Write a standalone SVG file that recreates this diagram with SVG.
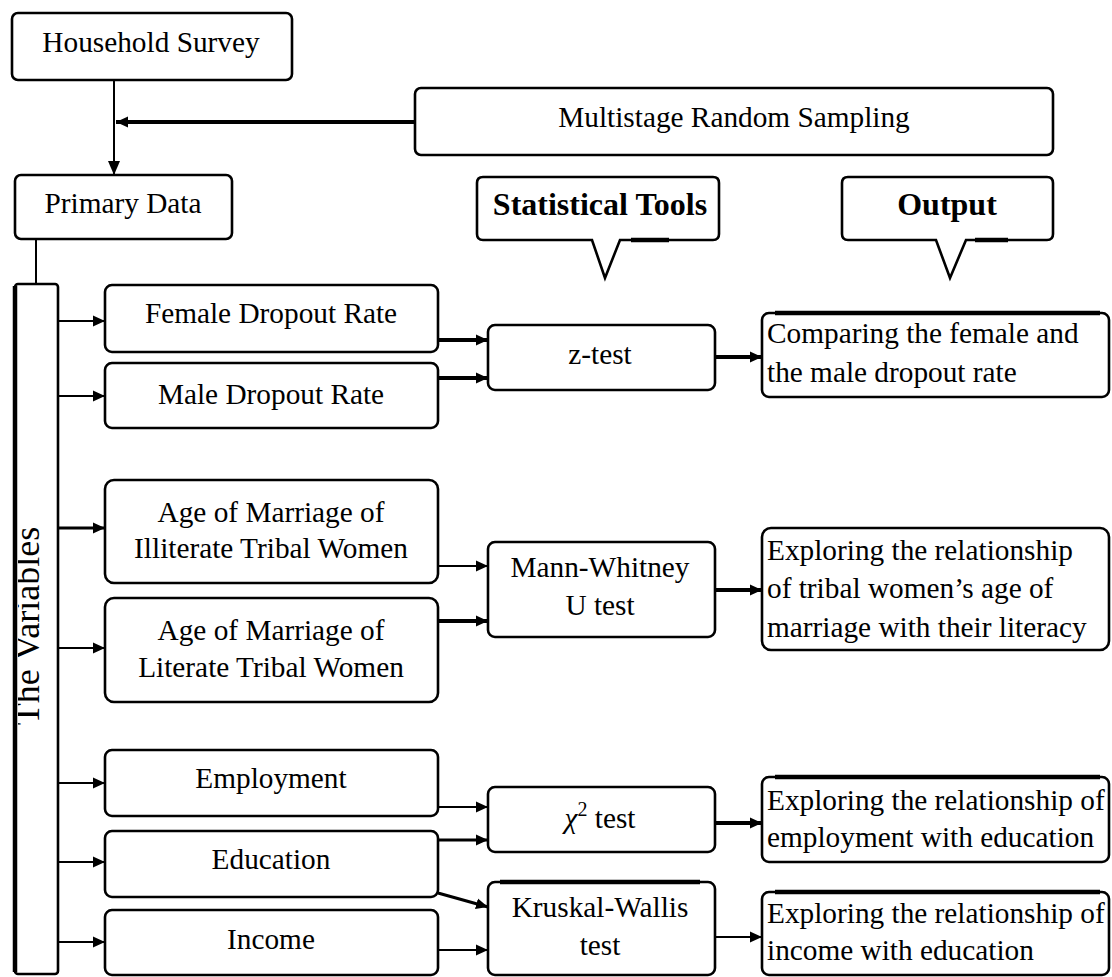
<svg xmlns="http://www.w3.org/2000/svg" width="1112" height="977" viewBox="0 0 1112 977">
<style>
  .box { fill: #fff; stroke: #000; stroke-width: 2.6; }
  .t { font-family: "Liberation Serif", "Times New Roman", serif; font-size: 29.3px; fill: #000; }
  .c { text-anchor: middle; }
  .b { font-weight: bold; font-size: 32px; }
  .thick { stroke: #000; stroke-width: 4; fill: none; }
  .thin { stroke: #000; stroke-width: 2; fill: none; }
  .mid { stroke: #000; stroke-width: 3; fill: none; }
  .edge { stroke: #000; stroke-width: 4.5; fill: none; }
</style>
<defs>
  <marker id="ah" viewBox="0 0 12 12" refX="12" refY="6" markerWidth="12" markerHeight="12" markerUnits="userSpaceOnUse" orient="auto">
    <path d="M0,0.5 L12,6 L0,11.5 z" fill="#000"/>
  </marker>
  <marker id="ahd" viewBox="0 0 12 14" refX="6" refY="14" markerWidth="12" markerHeight="14" markerUnits="userSpaceOnUse" orient="0">
    <path d="M0,0 L12,0 L6,14 z" fill="#000"/>
  </marker>
  <clipPath id="varclip"><rect x="18" y="285" width="40" height="688"/></clipPath>
</defs>
<rect width="1112" height="977" fill="#fff"/>

<g id="connectors">
  <line class="thin" x1="114" y1="80" x2="114" y2="175" marker-end="url(#ahd)"/>
  <line class="thick" x1="415" y1="122" x2="116" y2="122" marker-end="url(#ah)"/>
  <line class="thin" x1="36" y1="239" x2="36" y2="284"/>
  <line class="thin" x1="59" y1="321" x2="105" y2="321" marker-end="url(#ah)"/>
  <line class="thin" x1="59" y1="396" x2="105" y2="396" marker-end="url(#ah)"/>
  <line class="mid" x1="59" y1="528" x2="105" y2="528" marker-end="url(#ah)"/>
  <line class="thin" x1="59" y1="648" x2="105" y2="648" marker-end="url(#ah)"/>
  <line class="thin" x1="59" y1="783" x2="105" y2="783" marker-end="url(#ah)"/>
  <line class="thin" x1="59" y1="862" x2="105" y2="862" marker-end="url(#ah)"/>
  <line class="thin" x1="59" y1="942" x2="105" y2="942" marker-end="url(#ah)"/>
  <line class="thick" x1="438" y1="340" x2="488" y2="340" marker-end="url(#ah)"/>
  <line class="thick" x1="438" y1="378" x2="488" y2="378" marker-end="url(#ah)"/>
  <line class="thick" x1="715" y1="357" x2="762" y2="357" marker-end="url(#ah)"/>
  <line class="thin" x1="438" y1="566" x2="488" y2="566" marker-end="url(#ah)"/>
  <line class="thick" x1="438" y1="621" x2="488" y2="621" marker-end="url(#ah)"/>
  <line class="thick" x1="715" y1="590" x2="762" y2="590" marker-end="url(#ah)"/>
  <line class="thin" x1="438" y1="807" x2="488" y2="807" marker-end="url(#ah)"/>
  <line class="mid" x1="438" y1="840" x2="488" y2="840" marker-end="url(#ah)"/>
  <line class="mid" x1="438" y1="893" x2="488" y2="907" marker-end="url(#ah)"/>
  <line class="thin" x1="438" y1="950" x2="488" y2="950" marker-end="url(#ah)"/>
  <line class="thick" x1="715" y1="823" x2="762" y2="823" marker-end="url(#ah)"/>
  <line class="thin" x1="715" y1="937" x2="762" y2="937" marker-end="url(#ah)"/>
</g>

<g id="household-survey">
  <rect class="box" x="12" y="13" width="280" height="67" rx="6"/>
  <text class="t c" x="151" y="52">Household Survey</text>
</g>
<g id="multistage">
  <rect class="box" x="415" y="88" width="638" height="67" rx="6"/>
  <text class="t c" x="734" y="127">Multistage Random Sampling</text>
</g>
<g id="primary-data">
  <rect class="box" x="15" y="175" width="217" height="64" rx="6"/>
  <text class="t c" x="123" y="213">Primary Data</text>
</g>
<g id="statistical-tools">
  <path class="box" d="M483,177 H713 Q719,177 719,183 V234 Q719,240 713,240 H620 L605,278 L592,240 H483 Q477,240 477,234 V183 Q477,177 483,177 Z"/>
  <line class="edge" x1="631" y1="240" x2="669" y2="240"/>
  <text class="t c b" x="600" y="215">Statistical Tools</text>
</g>
<g id="output-label">
  <path class="box" d="M848,177 H1047 Q1053,177 1053,183 V234 Q1053,240 1047,240 H966 L950,278 L936,240 H848 Q842,240 842,234 V183 Q842,177 848,177 Z"/>
  <line class="edge" x1="975" y1="240" x2="1008" y2="240"/>
  <text class="t c b" x="947" y="215">Output</text>
</g>

<g id="variables">
  <rect class="box" x="15" y="284" width="43" height="690" rx="3"/>
  <line class="edge" x1="15" y1="286" x2="15" y2="972"/>
  <g clip-path="url(#varclip)">
    <text class="t c" transform="translate(39,626) rotate(-90)" x="0" y="0" style="font-size:36px">The Variables</text>
  </g>
</g>

<g id="female-dropout">
  <rect class="box" x="105" y="285" width="333" height="67" rx="7"/>
  <text class="t c" x="271" y="323">Female Dropout Rate</text>
</g>
<g id="male-dropout">
  <rect class="box" x="105" y="363" width="333" height="65" rx="7"/>
  <text class="t c" x="271" y="404">Male Dropout Rate</text>
</g>
<g id="age-illiterate">
  <rect class="box" x="105" y="480" width="333" height="103" rx="9"/>
  <text class="t c" x="271" y="522">Age of Marriage of</text>
  <text class="t c" x="271" y="558">Illiterate Tribal Women</text>
</g>
<g id="age-literate">
  <rect class="box" x="105" y="598" width="333" height="104" rx="9"/>
  <text class="t c" x="271" y="640">Age of Marriage of</text>
  <text class="t c" x="271" y="677">Literate Tribal Women</text>
</g>
<g id="employment">
  <rect class="box" x="105" y="750" width="333" height="66" rx="7"/>
  <text class="t c" x="271" y="788">Employment</text>
</g>
<g id="education">
  <rect class="box" x="105" y="831" width="333" height="66" rx="7"/>
  <text class="t c" x="271" y="869">Education</text>
</g>
<g id="income">
  <rect class="box" x="105" y="910" width="333" height="65" rx="7"/>
  <text class="t c" x="271" y="949">Income</text>
</g>

<g id="z-test">
  <rect class="box" x="488" y="325" width="227" height="65" rx="7"/>
  <text class="t c" x="600" y="364">z-test</text>
</g>
<g id="mann-whitney">
  <rect class="box" x="488" y="542" width="227" height="95" rx="7"/>
  <text class="t c" x="600" y="577">Mann-Whitney</text>
  <text class="t c" x="600" y="615">U test</text>
</g>
<g id="chi-square">
  <rect class="box" x="488" y="787" width="227" height="65" rx="7"/>
  <text class="t c" x="600" y="828"><tspan font-style="italic">χ</tspan><tspan dy="-12" style="font-size:20px">2</tspan><tspan dy="12"> test</tspan></text>
</g>
<g id="kruskal-wallis">
  <rect class="box" x="488" y="882" width="227" height="93" rx="7"/>
  <line class="edge" x1="500" y1="882" x2="700" y2="882"/>
  <text class="t c" x="600" y="917">Kruskal-Wallis</text>
  <text class="t c" x="600" y="955">test</text>
</g>

<g id="output-dropout">
  <rect class="box" x="762" y="313" width="347" height="84" rx="7"/>
  <line class="edge" x1="775" y1="313" x2="1100" y2="313"/>
  <text class="t" x="767" y="343">Comparing the female and</text>
  <text class="t" x="767" y="382">the male dropout rate</text>
</g>
<g id="output-marriage">
  <rect class="box" x="762" y="528" width="347" height="122" rx="9"/>
  <text class="t" x="767" y="560">Exploring the relationship</text>
  <text class="t" x="767" y="598">of tribal women’s age of</text>
  <text class="t" x="767" y="637">marriage with their literacy</text>
</g>
<g id="output-employment">
  <rect class="box" x="762" y="777" width="347" height="85" rx="7"/>
  <line class="edge" x1="775" y1="777" x2="1100" y2="777"/>
  <text class="t" x="767" y="810">Exploring the relationship of</text>
  <text class="t" x="767" y="847">employment with education</text>
</g>
<g id="output-income">
  <rect class="box" x="762" y="892" width="347" height="83" rx="7"/>
  <line class="edge" x1="775" y1="892" x2="1100" y2="892"/>
  <text class="t" x="767" y="923">Exploring the relationship of</text>
  <text class="t" x="767" y="960">income with education</text>
</g>
</svg>
